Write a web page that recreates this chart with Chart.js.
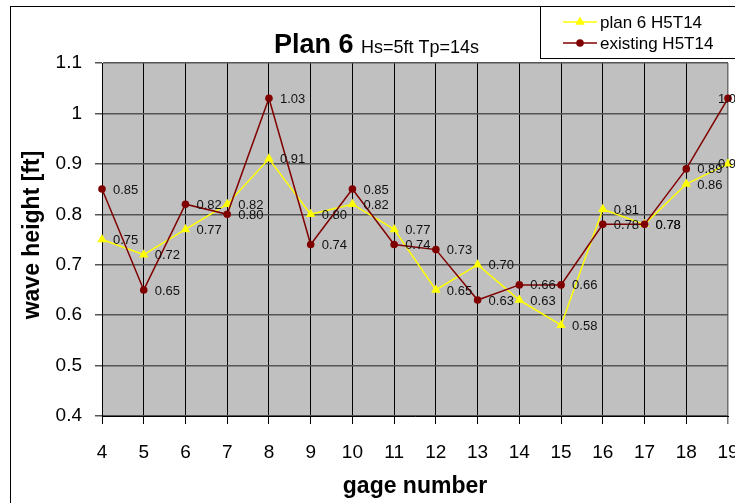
<!DOCTYPE html>
<html>
<head>
<meta charset="utf-8">
<script src="https://cdn.jsdelivr.net/npm/chart.js@4"></script>
<style>
  html, body { margin: 0; padding: 0; background: #fff; }
  #wrap { width: 735px; height: 503px; }
</style>
</head>
<body>
<div id="wrap"><canvas id="chart" width="735" height="503"></canvas></div>
<script>
// gage numbers along the x axis
const gages = ['4', '5', '6', '7', '8', '9', '10', '11', '12', '13', '14', '15', '16', '17', '18', '19'];

// wave heights [ft]
const plan6 = [0.75, 0.72, 0.77, 0.82, 0.91, 0.80, 0.82, 0.77, 0.65, 0.70, 0.63, 0.58, 0.81, 0.78, 0.86, 0.90];
const existing = [0.85, 0.65, 0.82, 0.80, 1.03, 0.74, 0.85, 0.74, 0.73, 0.63, 0.66, 0.66, 0.78, 0.78, 0.89, 1.03];

const yTickLabels = ['0.4', '0.5', '0.6', '0.7', '0.8', '0.9', '1', '1.1'];

const FONT = "Arial, 'Liberation Sans', sans-serif";

// grey plot area + white page
const backdrop = {
    id: 'backdrop',
    beforeDraw(chart) {
        const { ctx, chartArea: a } = chart;
        ctx.save();
        ctx.fillStyle = '#fff';
        ctx.fillRect(0, 0, chart.width, chart.height);
        ctx.fillStyle = '#c0c0c0';
        ctx.fillRect(a.left, a.top, a.right - a.left, a.bottom - a.top);
        ctx.restore();
    }
};

// value labels to the right of each point
const valueLabels = {
    id: 'valueLabels',
    afterDatasetsDraw(chart) {
        const ctx = chart.ctx;
        ctx.save();
        ctx.font = '13px ' + FONT;
        ctx.fillStyle = '#111';
        ctx.textBaseline = 'middle';
        chart.data.datasets.forEach((ds, i) => {
            const meta = chart.getDatasetMeta(i);
            meta.data.forEach((pt, j) => {
                const last = j === meta.data.length - 1;
                const x = last ? pt.x - 10 : pt.x + 11;
                ctx.fillText(ds.data[j].toFixed(2), x, pt.y + 1);
            });
        });
        ctx.restore();
    }
};

// title, axis titles, legend, outer frame
const decorations = {
    id: 'decorations',
    afterDraw(chart) {
        const ctx = chart.ctx;
        const a = chart.chartArea;
        ctx.save();

        // outer frame (only left and top show)
        ctx.strokeStyle = '#000';
        ctx.lineWidth = 1;
        ctx.strokeRect(10.5, 6.5, 900, 700);

        // title
        ctx.fillStyle = '#000';
        ctx.textBaseline = 'alphabetic';
        ctx.textAlign = 'left';
        ctx.font = 'bold 27px ' + FONT;
        ctx.fillText('Plan 6', 274, 53);
        const w = ctx.measureText('Plan 6 ').width;
        ctx.font = '18px ' + FONT;
        ctx.fillText('Hs=5ft Tp=14s', 274 + w, 53);

        // axis titles
        ctx.font = 'bold 23px ' + FONT;
        ctx.textAlign = 'center';
        ctx.textBaseline = 'middle';
        ctx.fillText('gage number', (a.left + a.right) / 2, 487);
        ctx.save();
        ctx.translate(33, 235);
        ctx.rotate(-Math.PI / 2);
        ctx.fillText('wave height [ft]', 0, 0);
        ctx.restore();

        // legend
        ctx.fillStyle = '#fff';
        ctx.fillRect(540.5, 6.5, 300, 52);
        ctx.strokeStyle = '#000';
        ctx.strokeRect(540.5, 6.5, 300, 52);
        ctx.textAlign = 'left';
        ctx.font = '17px ' + FONT;
        const rows = [
            { ds: chart.data.datasets[0], y: 22 },
            { ds: chart.data.datasets[1], y: 43 }
        ];
        rows.forEach(r => {
            ctx.strokeStyle = r.ds.borderColor;
            ctx.lineWidth = 1.5;
            ctx.beginPath();
            ctx.moveTo(563, r.y);
            ctx.lineTo(597, r.y);
            ctx.stroke();
            ctx.fillStyle = r.ds.pointBackgroundColor;
            Chart.helpers.drawPoint(ctx, {
                pointStyle: r.ds.pointStyle,
                radius: r.ds.pointRadius,
                borderWidth: 0
            }, 580, r.y);
            ctx.fillStyle = '#000';
            ctx.fillText(r.ds.label, 600, r.y + 1);
        });

        ctx.restore();
    }
};

new Chart(document.getElementById('chart').getContext('2d'), {
    type: 'line',
    data: {
        labels: gages,
        datasets: [{
            label: 'plan 6 H5T14',
            data: plan6,
            borderColor: '#ffff00',
            backgroundColor: '#ffff00',
            pointBackgroundColor: '#ffff00',
            pointBorderColor: '#ffff00',
            pointStyle: 'triangle',
            pointRadius: 5.5,
            pointBorderWidth: 0,
            borderWidth: 1.5,
            tension: 0,
            order: 1
        }, {
            label: 'existing H5T14',
            data: existing,
            borderColor: '#800000',
            backgroundColor: '#800000',
            pointBackgroundColor: '#800000',
            pointBorderColor: '#800000',
            pointStyle: 'circle',
            pointRadius: 3.8,
            pointBorderWidth: 0,
            borderWidth: 1.5,
            tension: 0,
            order: 0
        }]
    },
    options: {
        responsive: false,
        animation: false,
        events: [],
        layout: { padding: { top: 63, right: 7, left: 0, bottom: 0 } },
        plugins: {
            legend: { display: false },
            title: { display: false },
            tooltip: { enabled: false }
        },
        scales: {
            x: {
                offset: false,
                grid: {
                    offset: false,
                    color: c => (c.index === gages.length - 1 ? '#707070' : '#000'),
                    lineWidth: c => (c.index === gages.length - 1 ? 1.5 : 1),
                    tickLength: 8
                },
                border: { color: '#000', width: 1 },
                ticks: {
                    autoSkip: false,
                    maxRotation: 0,
                    padding: 17,
                    color: '#000',
                    font: { family: FONT, size: 19 }
                },
                afterFit(scale) {
                    scale.height = 87;
                    scale.paddingLeft = 0;
                    scale.paddingRight = 0;
                }
            },
            y: {
                min: 0.4,
                max: 1.1,
                grid: {
                    color: '#555',
                    lineWidth: 1.5,
                    tickLength: 7
                },
                border: { color: '#000', width: 1 },
                ticks: {
                    stepSize: 0.1,
                    padding: 13,
                    color: '#000',
                    font: { family: FONT, size: 19 },
                    callback: (v, i) => yTickLabels[i]
                },
                afterFit(scale) {
                    scale.width = 102;
                }
            }
        }
    },
    plugins: [backdrop, valueLabels, decorations]
});
</script>
</body>
</html>
